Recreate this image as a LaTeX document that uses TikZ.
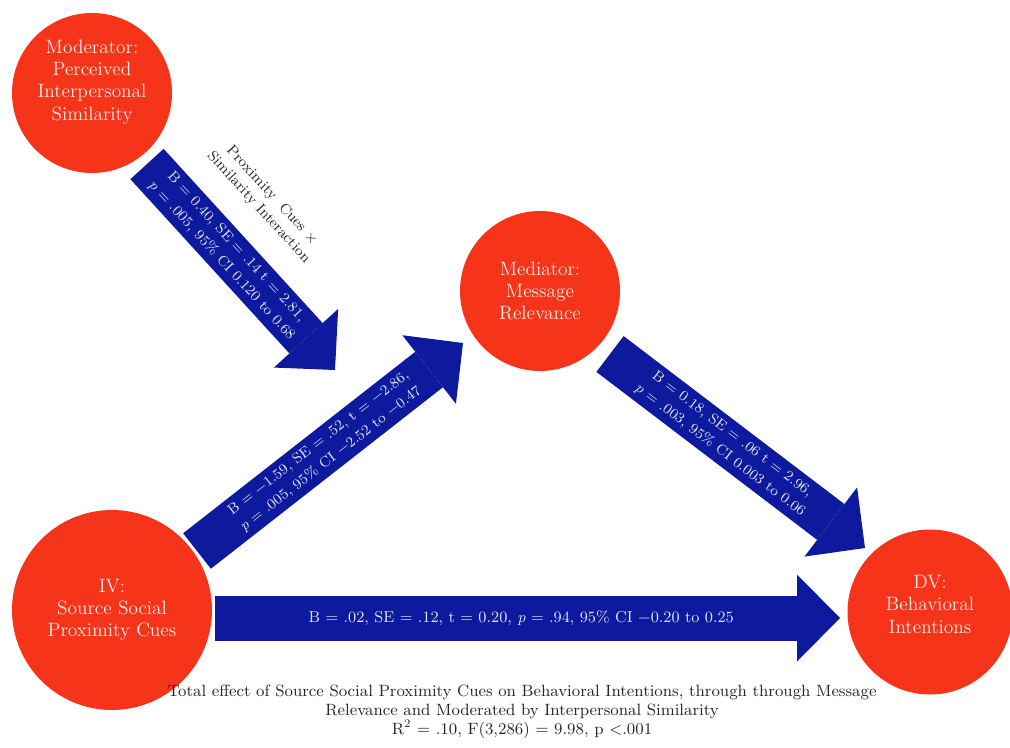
\documentclass[tikz,border=0pt]{standalone}
\usetikzlibrary{arrows.meta}
\definecolor{circred}{RGB}{246,52,26}
\definecolor{arrblue}{RGB}{14,26,158}
\definecolor{paletext}{RGB}{255,236,232}
\definecolor{lavtext}{RGB}{226,226,250}

\begin{document}
\begin{tikzpicture}[x=0.2mm, y=-0.2mm, align=center]
\tikzstyle{v} = [circle, fill=circred, text=paletext, inner sep=0pt, font=\fontsize{11}{12.7}\selectfont]
\tikzstyle{e} = [draw=arrblue, line width=9mm, -{Triangle[width=17.4mm, length=8.6mm, line width=0pt]}]
\tikzstyle{lbl} = [sloped, text=lavtext, inner sep=0pt, font=\fontsize{8.3}{11.3}\selectfont]
\tikzstyle{note} = [sloped, above=4.8mm, text=black!85, inner sep=0pt, font=\fontsize{8.3}{10.2}\selectfont]

\useasboundingbox (0,0) rectangle (1010,747);

\node[v, minimum size=32mm, text depth=15pt](Mod) at (92,93) {Moderator:\\Perceived\\Interpersonal\\Similarity};
\node[v, minimum size=32mm](Med) at (540,291) {Mediator:\\Message\\Relevance};
\node[v, minimum size=40mm](IV) at (112,610) {IV:\\Source Social\\Proximity Cues};
\node[v, minimum size=33mm, text depth=9pt](DV) at (930,612) {DV:\\Behavioral\\Intentions};

% free ends of the block arrows
\coordinate (modtail) at (147,164);
\coordinate (modtip) at (335,370);
\coordinate (ivtail) at (197,551);
\coordinate (medtip) at (463,343);
\coordinate (medtail) at (610,354);
\coordinate (dvtip) at (865,548);
\coordinate (ivtail2) at (215,618);
\coordinate (dvtip2) at (840,618);

\draw[e] (modtail) to
  node[lbl, pos=0.436] {B = 0.40, SE = .14 t = 2.81,\\\textit{p} = .005, 95\% CI 0.120 to 0.68}
  node[note, pos=0.385] {Proximity~~Cues ×\\Similarity Interaction} (modtip);
\draw[e] (ivtail) to
  node[lbl, pos=0.48] {B = −1.59, SE = .52, t = −2.86,\\\textit{p} = .005, 95\% CI −2.52 to −0.47} (medtip);
\draw[e] (medtail) to
  node[lbl, pos=0.455] {B = 0.18, SE = .06 t = 2.96,\\\textit{p} = .003, 95\% CI 0.003 to 0.06} (dvtip);
\draw[e] (ivtail2) to
  node[lbl, pos=0.49, font=\fontsize{9}{10.8}\selectfont] {B = .02, SE = .12, t = 0.20, \textit{p} = .94, 95\% CI −0.20 to 0.25} (dvtip2);

\node[text=black!85, font=\fontsize{9.3}{10.8}\selectfont](cap) at (522,712)
  {Total effect of Source Social Proximity Cues on Behavioral Intentions, through through Message\\
   Relevance and Moderated by Interpersonal Similarity\\
   R\textsuperscript{2} = .10, F(3,286) = 9.98, p <.001};
\end{tikzpicture}
\end{document}
